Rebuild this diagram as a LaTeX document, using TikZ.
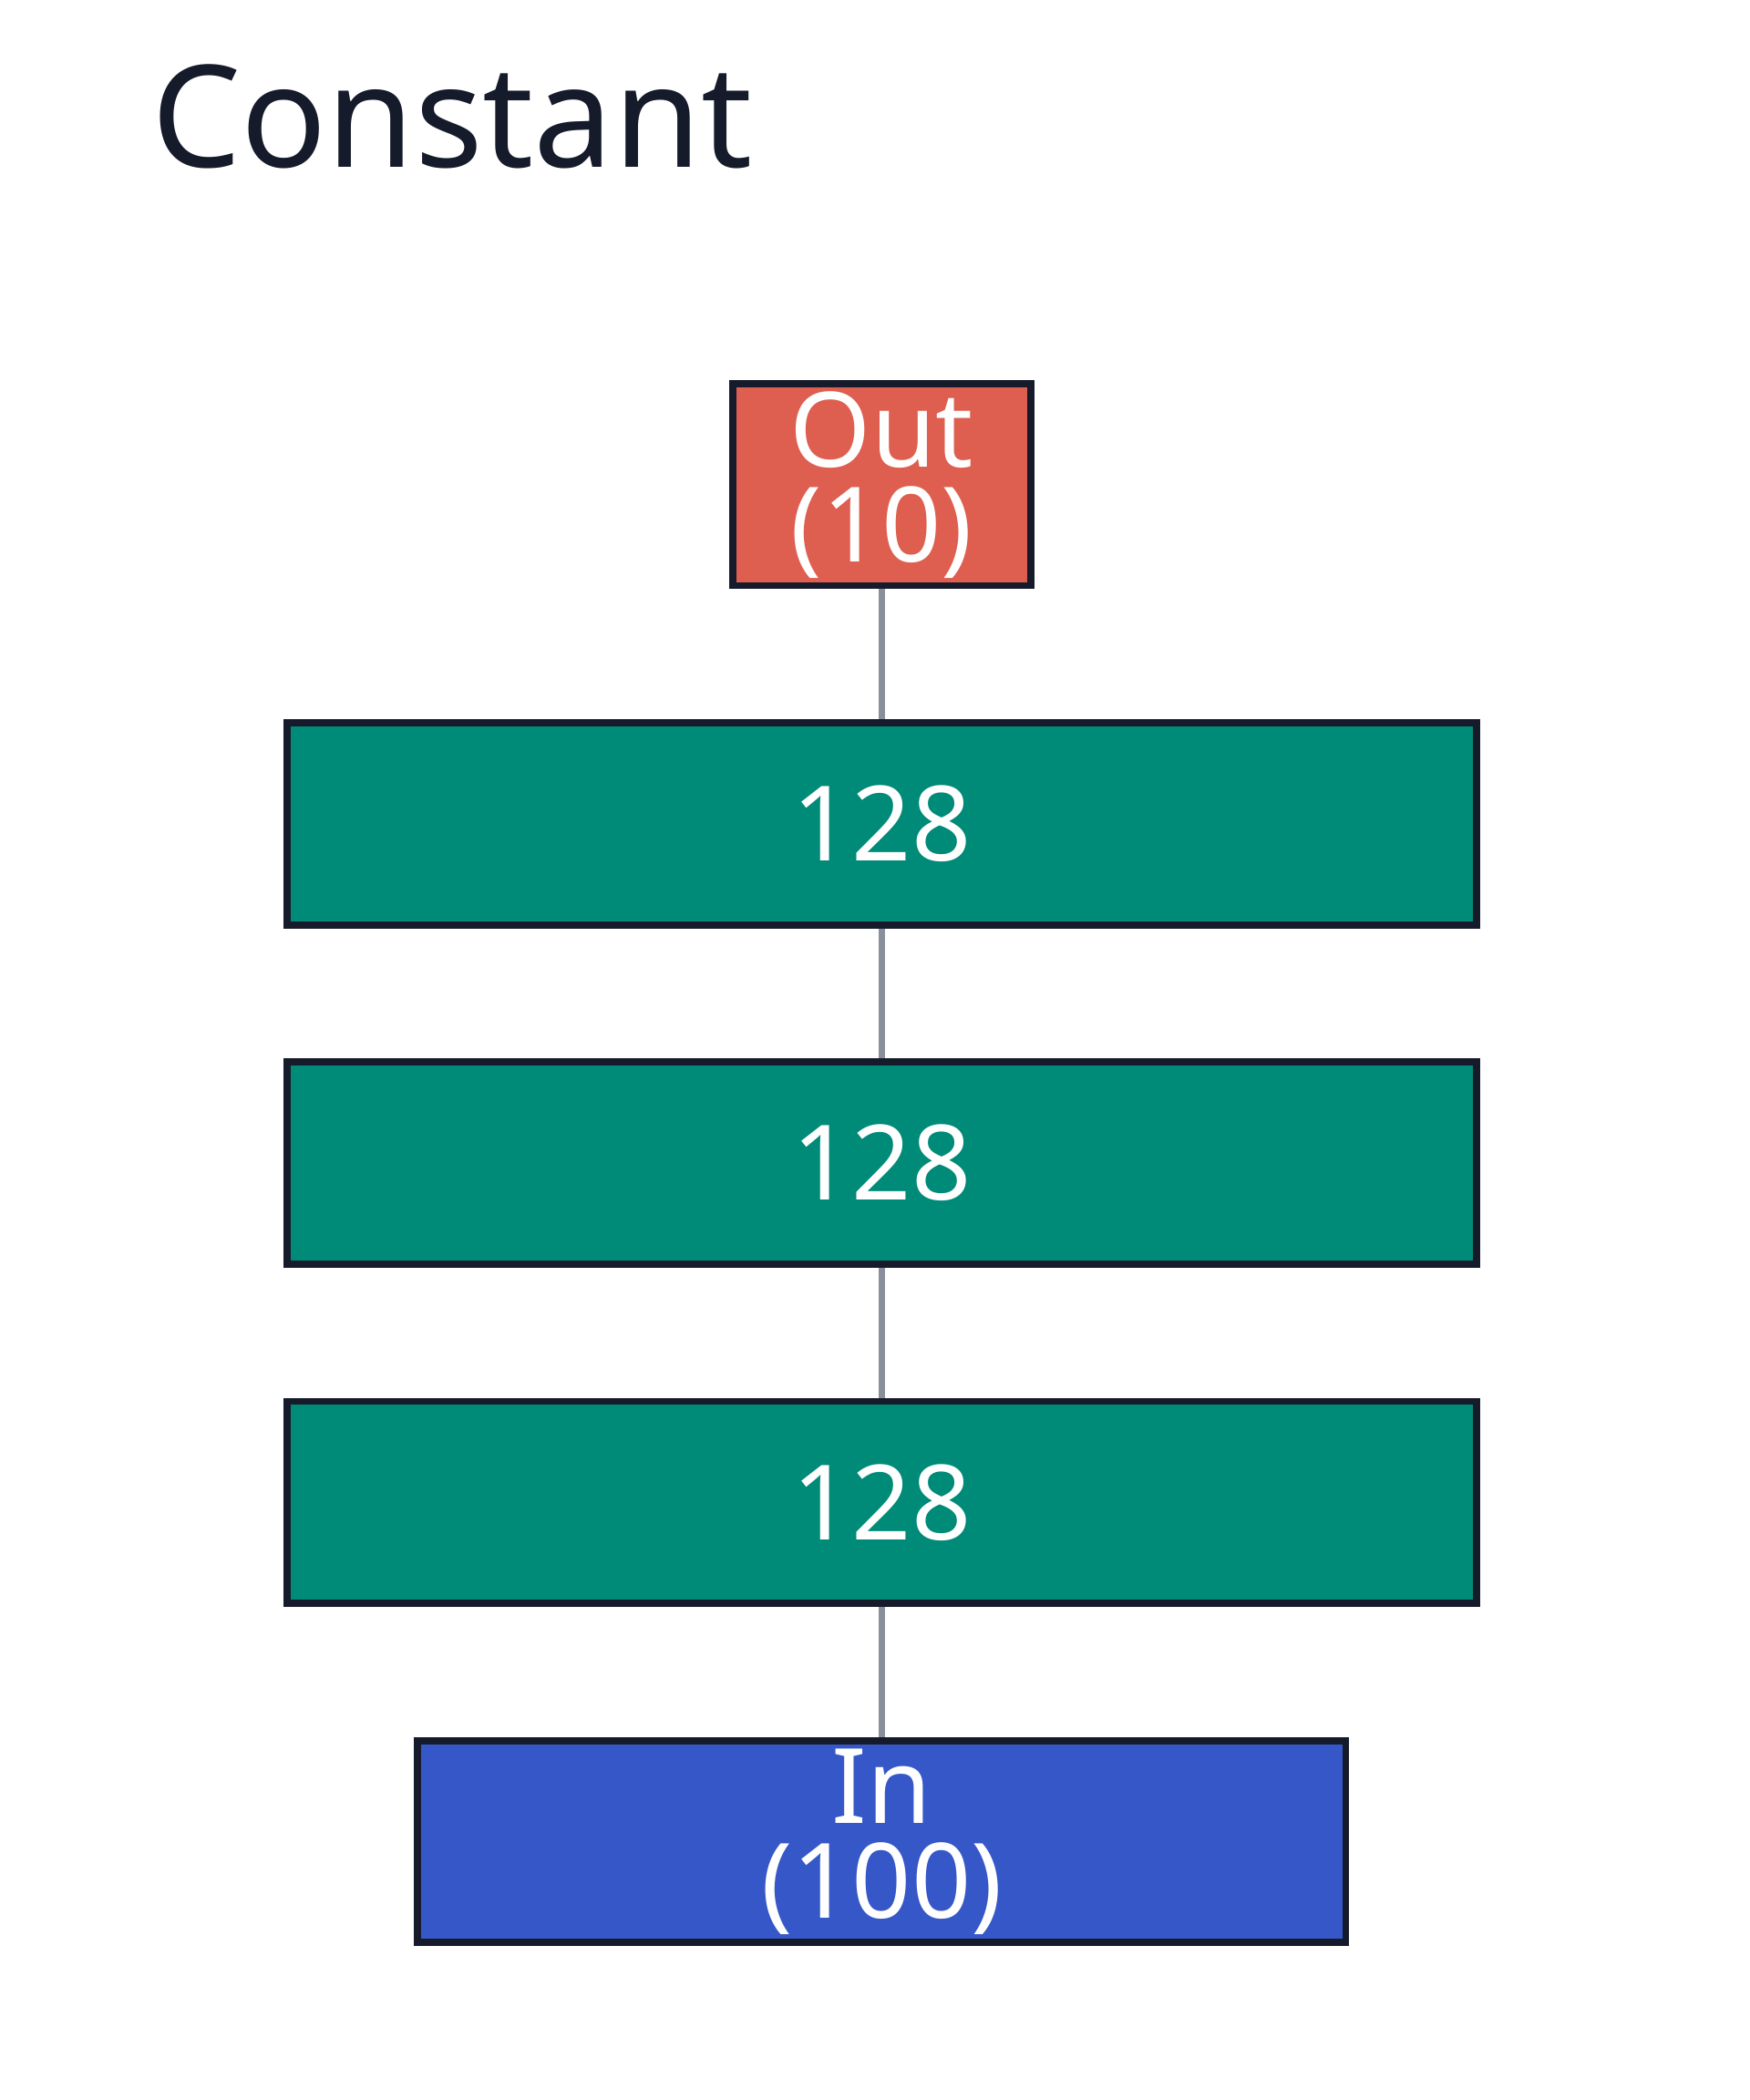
\documentclass[tikz,border=0pt]{standalone}
\usepackage{fontspec}
\setmainfont{Noto Sans}
\usetikzlibrary{positioning}
\definecolor{outred}{HTML}{DE5F50}
\definecolor{layergreen}{HTML}{008A78}
\definecolor{inblue}{HTML}{3657C8}
\definecolor{edgedark}{HTML}{151B2B}
\definecolor{linkgray}{HTML}{8A8F9C}
\tikzset{
    layer/.style={draw=edgedark, line width=1.5pt, text=white, font=\fontsize{22}{26}\selectfont,
        minimum height=1.5cm, inner sep=0pt, align=center},
    link/.style={draw=linkgray, line width=1.3pt}
}
\begin{document}
\begin{tikzpicture}[x=0.01cm, y=-0.01cm]
    \useasboundingbox (0,0) rectangle (1300,1560);
    % Title
    \node[anchor=base west, text=edgedark, font=\fontsize{30}{36}\selectfont] (title) at (100,124) {Constant};

    % Layers, top to bottom
    \node[layer, fill=outred, minimum width=2.21cm] (out) at (655,360) {Out\\[-6pt](10)};
    \node[layer, fill=layergreen, minimum width=8.83cm] (h3) at (655,612) {128};
    \node[layer, fill=layergreen, minimum width=8.83cm] (h2) at (655,864) {128};
    \node[layer, fill=layergreen, minimum width=8.83cm] (h1) at (655,1116) {128};
    \node[layer, fill=inblue, minimum width=6.89cm] (in) at (655,1368) {In\\[-6pt](100)};

    % Connections
    \draw[link] (out) -- (h3);
    \draw[link] (h3) -- (h2);
    \draw[link] (h2) -- (h1);
    \draw[link] (h1) -- (in);
\end{tikzpicture}
\end{document}
